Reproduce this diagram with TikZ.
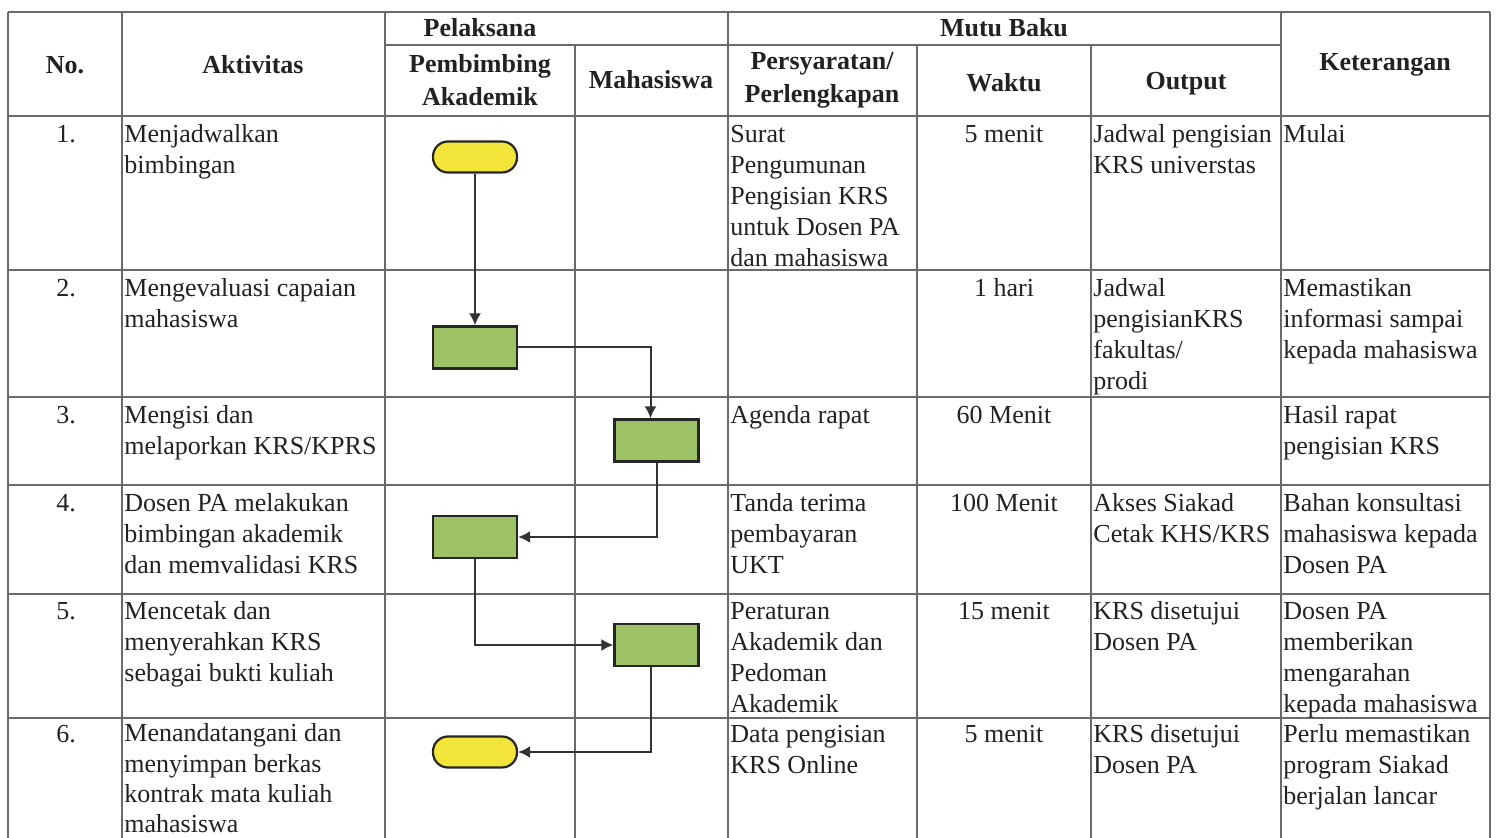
\documentclass[tikz,border=0pt]{standalone}
\usepackage{fontspec}
\setmainfont{Liberation Serif}
\usetikzlibrary{arrows.meta,calc}
\definecolor{gridc}{HTML}{6A6A6A}
\definecolor{boxg}{HTML}{9CC265}
\definecolor{termy}{HTML}{F3E43A}
\definecolor{txt}{HTML}{222222}
\begin{document}
\begin{tikzpicture}[x=0.5pt,y=-0.5pt,
  gridline/.style={draw=gridc,line width=0.75pt},
  cell/.style={anchor=north west,inner sep=0pt,align=left,text=txt,font=\fontsize{13}{15.5}\selectfont},
  cellc/.style={anchor=north,inner sep=0pt,align=center,text=txt,font=\fontsize{13}{15.5}\selectfont},
  hdr/.style={inner sep=0pt,align=center,text=txt,font=\bfseries\fontsize{13}{16.5}\selectfont},
  proc/.style={draw=black!85,line width=1.1pt,fill=boxg,minimum width=42pt,minimum height=21pt,inner sep=0pt},
  term/.style={draw=black!85,line width=1.1pt,fill=termy,rounded corners=7.5pt,minimum width=42pt,minimum height=15.5pt,inner sep=0pt},
  flow/.style={draw=black!80,line width=1pt,-{Latex[length=6pt,width=6pt]}}
]
\useasboundingbox (0,0) rectangle (1499,838);
\fill[white] (0,0) rectangle (1499,838);
% grid
\draw[gridline] (8,12) -- (1490,12);
\draw[gridline] (385,45) -- (1281,45);
\foreach \y in {116,270,397,485,594,718}{\draw[gridline] (8,\y) -- (1490,\y);}
\foreach \x in {8,122,385,728,1281,1490}{\draw[gridline] (\x,12) -- (\x,838);}
\foreach \x in {575,917,1091}{\draw[gridline] (\x,45) -- (\x,838);}
% header
\node[hdr] (hNo) at (65,65) {No.};
\node[hdr] (hAkt) at (253,65) {Aktivitas};
\node[hdr] (hPel) at (480,28) {Pelaksana};
\node[hdr] (hPA) at (480,80) {Pembimbing\\Akademik};
\node[hdr] (hMhs) at (651,80) {Mahasiswa};
\node[hdr] (hMB) at (1004,28) {Mutu Baku};
\node[hdr] (hPers) at (822,80) {Persyaratan/\\Perlengkapan};
\node[hdr] (hWkt) at (1004,83) {Waktu};
\node[hdr] (hOut) at (1186,84) {Output};
\node[hdr] (hKet) at (1385,65) {Keterangan};
% row 1
\node[cellc] (n1) at (66,120) {\strut 1.};
\node[cell] (a1) at (124,120) {\strut Menjadwalkan\\bimbingan};
\node[cell] (p1) at (730,120) {\strut Surat\\Pengumunan\\Pengisian KRS\\untuk Dosen PA\\dan mahasiswa};
\node[cellc] (w1) at (1004,120) {\strut 5 menit};
\node[cell] (o1) at (1093,120) {\strut Jadwal pengisian\\KRS universtas};
\node[cell] (k1) at (1283,120) {\strut Mulai};
% row 2
\node[cellc] (n2) at (66,274) {\strut 2.};
\node[cell] (a2) at (124,274) {\strut Mengevaluasi capaian\\mahasiswa};
\node[cellc] (w2) at (1004,274) {\strut 1 hari};
\node[cell] (o2) at (1093,274) {\strut Jadwal\\pengisianKRS\\fakultas/\\prodi};
\node[cell] (k2) at (1283,274) {\strut Memastikan\\informasi sampai\\kepada mahasiswa};
% row 3
\node[cellc] (n3) at (66,401) {\strut 3.};
\node[cell] (a3) at (124,401) {\strut Mengisi dan\\melaporkan KRS/KPRS};
\node[cell] (p3) at (730,401) {\strut Agenda rapat};
\node[cellc] (w3) at (1004,401) {\strut 60 Menit};
\node[cell] (k3) at (1283,401) {\strut Hasil rapat\\pengisian KRS};
% row 4
\node[cellc] (n4) at (66,489) {\strut 4.};
\node[cell] (a4) at (124,489) {\strut Dosen PA melakukan\\bimbingan akademik\\dan memvalidasi KRS};
\node[cell] (p4) at (730,489) {\strut Tanda terima\\pembayaran\\UKT};
\node[cellc] (w4) at (1004,489) {\strut 100 Menit};
\node[cell] (o4) at (1093,489) {\strut Akses Siakad\\Cetak KHS/KRS};
\node[cell] (k4) at (1283,489) {\strut Bahan konsultasi\\mahasiswa kepada\\Dosen PA};
% row 5
\node[cellc] (n5) at (66,597) {\strut 5.};
\node[cell] (a5) at (124,597) {\strut Mencetak dan\\menyerahkan KRS\\sebagai bukti kuliah};
\node[cell] (p5) at (730,597) {\strut Peraturan\\Akademik dan\\Pedoman\\Akademik};
\node[cellc] (w5) at (1004,597) {\strut 15 menit};
\node[cell] (o5) at (1093,597) {\strut KRS disetujui\\Dosen PA};
\node[cell] (k5) at (1283,597) {\strut Dosen PA\\memberikan\\mengarahan\\kepada mahasiswa};
% row 6
\node[cellc] (n6) at (66,720) {\strut 6.};
\node[cell,font=\fontsize{13}{15.2}\selectfont] (a6) at (124,720) {\strut Menandatangani dan\\menyimpan berkas\\kontrak mata kuliah\\mahasiswa};
\node[cell] (p6) at (730,720) {\strut Data pengisian\\KRS Online};
\node[cellc] (w6) at (1004,720) {\strut 5 menit};
\node[cell] (o6) at (1093,720) {\strut KRS disetujui\\Dosen PA};
\node[cell] (k6) at (1283,720) {\strut Perlu memastikan\\program Siakad\\berjalan lancar};
% flowchart
\node[term] (t1) at (475,157) {};
\node[proc] (b2) at (475,347.5) {};
\node[proc] (b3) at (656.5,440.5) {};
\node[proc] (b4) at (475,537) {};
\node[proc] (b5) at (656.5,645) {};
\node[term] (t6) at (475,752) {};
\draw[flow] (t1.south) -- (b2.north);
\draw[flow] (b2.east) -| ([xshift=-3pt]b3.north);
\draw[flow] (b3.south) |- (b4.east);
\draw[flow] (b4.south) |- (b5.west);
\draw[flow] ([xshift=-3pt]b5.south) |- (t6.east);
\end{tikzpicture}
\end{document}
